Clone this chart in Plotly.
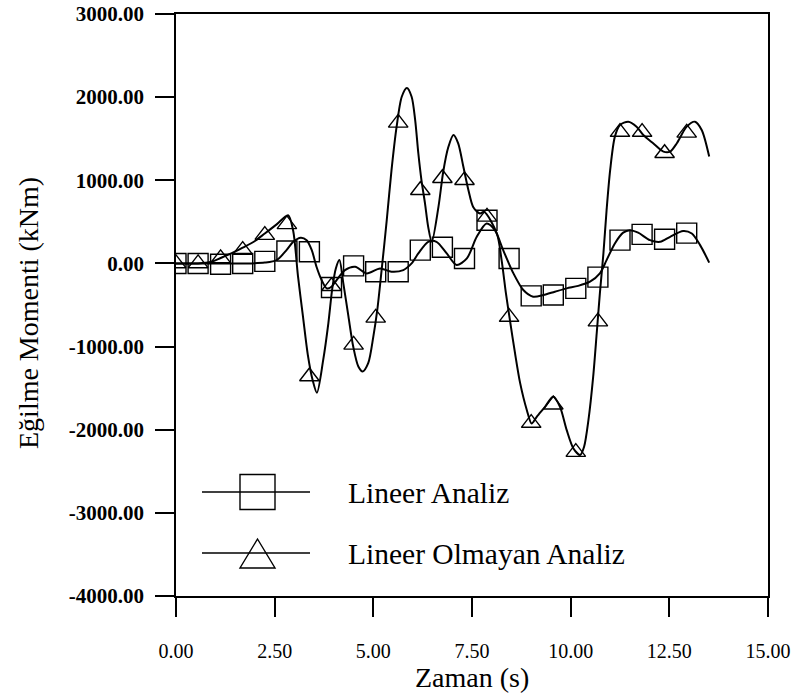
import plotly.graph_objects as go

# --- data -----------------------------------------------------------------
# sampled times of the plotted markers (s)
t_markers = [0.00, 0.56, 1.13, 1.69, 2.25, 2.81, 3.38, 3.94, 4.50, 5.06, 5.63, 6.19,
             6.75, 7.31, 7.88, 8.44, 9.00, 9.56, 10.13, 10.69, 11.25, 11.81, 12.38, 12.94]

# bending moment at the marker times (kNm)
lineer_markers = [0, 0, -10, 0, 25, 150, 140, -290, -30, -100, -100, 160,
                  195, 60, 520, 60, -390, -380, -300, -165, 280, 350, 290, 365]
nonlineer_markers = [0, 0, 60, 160, 340, 470, -1360, -275, -980, -655, 1690, 880,
                     1025, 1000, 560, -645, -1920, -1700, -2270, -700, 1580, 1580, 1325, 1570]

# continuous response curves
t_lineer = [0.00, 0.56, 1.13, 1.69, 2.25, 2.55, 2.80, 2.97, 3.16, 3.31, 3.44, 3.56, 3.69,
            3.82, 3.94, 4.07, 4.28, 4.54, 4.83, 5.17, 5.46, 5.76, 5.97, 6.14, 6.39,
            6.60, 6.86, 7.11, 7.37, 7.62, 7.87, 8.08, 8.29, 8.55, 8.80, 9.05, 9.31,
            9.60, 9.90, 10.19, 10.49, 10.74, 10.91, 11.12, 11.33, 11.50, 11.71, 12.01,
            12.27, 12.52, 12.85, 13.07, 13.28, 13.51]
m_lineer = [0, 0, 0, 0, 10, 40, 160, 260, 310, 280, 160, -40, -200,
            -300, -280, -200, -80, -40, -120, -60, -100, -80, 0, 120, 260,
            260, 120, -20, 60, 320, 480, 400, 160, -120, -320, -400, -380,
            -340, -300, -270, -220, -120, 40, 240, 370, 400, 370, 280,
            260, 320, 390, 360, 220, 10]

t_nonlineer = [0.00, 0.56, 0.90, 1.13, 1.40, 1.69, 2.00, 2.25, 2.55, 2.84, 2.97, 3.09,
               3.22, 3.34, 3.46, 3.57, 3.73, 3.86, 3.96, 4.05, 4.14, 4.24, 4.37, 4.49,
               4.62, 4.73, 4.87, 5.00, 5.10, 5.21, 5.34, 5.46, 5.59, 5.72, 5.85, 5.97,
               6.06, 6.14, 6.22, 6.31, 6.39, 6.48, 6.65, 6.77, 6.90, 7.03, 7.15, 7.28,
               7.41, 7.53, 7.70, 7.81, 8.13, 8.25, 8.36, 8.46, 8.59, 8.72, 8.89, 9.01,
               9.14, 9.35, 9.56, 9.73, 9.90, 10.07, 10.24, 10.34, 10.45, 10.57, 10.66,
               10.74, 10.83, 10.91, 11.00, 11.12, 11.25, 11.46, 11.67, 11.84, 12.09,
               12.35, 12.52, 12.69, 12.94, 13.15, 13.32, 13.51]
m_nonlineer = [0, 0, 20, 65, 120, 190, 270, 360, 470, 580, 390, -150,
               -650, -1100, -1400, -1555, -1160, -720, -300, -60, 40, -240, -640, -1000,
               -1240, -1300, -1200, -880, -560, -80, 520, 1120, 1645, 2005, 2110, 2005,
               1725, 1325, 1000, 720, 440, 260, 680, 1100, 1400, 1545, 1445, 1165,
               880, 680, 600, 620, 360, 40, -360, -680, -1080, -1440, -1765, -1925,
               -1845, -1725, -1600, -1725, -2005, -2225, -2305, -2205, -1885, -1365, -840,
               -360, 120, 640, 1120, 1525, 1665, 1705, 1645, 1545, 1445,
               1345, 1345, 1445, 1645, 1705, 1605, 1285]

series_names = ["Lineer Analiz", "Lineer Olmayan Analiz"]
x_ticks = [0, 2.5, 5, 7.5, 10, 12.5, 15]
y_ticks = [-4000, -3000, -2000, -1000, 0, 1000, 2000, 3000]
y_tick_labels = ["-4000.00", "-3000.00", "-2000.00", "-1000.00",
                 "0.00", "1000.00", "2000.00", "3000.00"]

# --- layout constants -------------------------------------------------------
W, H = 794, 693
ML, MR, MT, MB = 176, 26, 14, 97
PW, PH = W - ML - MR, H - MT - MB
SERIF = "Liberation Serif"


def px(xp):
    return (xp - ML) / PW


def py(yp):
    return (H - MB - yp) / PH


fig = go.Figure()

curve = dict(color="black", width=2, shape="spline", smoothing=0.8)
fig.add_trace(go.Scatter(x=t_lineer, y=m_lineer, mode="lines", line=curve,
                         name=series_names[0], showlegend=False, hoverinfo="skip"))
fig.add_trace(go.Scatter(x=t_nonlineer, y=m_nonlineer, mode="lines", line=curve,
                         name=series_names[1], showlegend=False, hoverinfo="skip"))
fig.add_trace(go.Scatter(x=t_markers, y=lineer_markers, mode="markers",
                         marker=dict(symbol="square-open", size=20, color="black",
                                     line=dict(width=1.4, color="black")),
                         name=series_names[0], showlegend=False))
fig.add_trace(go.Scatter(x=t_markers, y=nonlineer_markers, mode="markers",
                         marker=dict(symbol="triangle-up-open", size=17, color="black",
                                     line=dict(width=1.4, color="black")),
                         name=series_names[1], showlegend=False))

# hand-built legend keys inside the plotting area
shapes = []
annotations = []
legend_rows = [492, 553]
for row_y, name, kind in zip(legend_rows, series_names, ["square", "triangle"]):
    shapes.append(dict(type="line", xref="paper", yref="paper",
                       x0=px(202), x1=px(310), y0=py(row_y), y1=py(row_y),
                       line=dict(color="black", width=1.6)))
    if kind == "square":
        shapes.append(dict(type="rect", xref="paper", yref="paper",
                           x0=px(240), x1=px(275), y0=py(row_y + 17.5), y1=py(row_y - 17.5),
                           line=dict(color="black", width=1.4)))
    else:
        path = "M {a},{b} L {c},{d} L {e},{f} Z".format(
            a=px(240), b=py(row_y + 15), c=px(275), d=py(row_y + 15),
            e=px(257.5), f=py(row_y - 14))
        shapes.append(dict(type="path", xref="paper", yref="paper", path=path,
                           line=dict(color="black", width=1.4)))
    annotations.append(dict(text=name, xref="paper", yref="paper",
                            x=px(346), y=py(row_y + 1), xanchor="left", yanchor="middle",
                            showarrow=False, font=dict(family=SERIF, size=29.5, color="black")))

# axis titles
annotations.append(dict(text="Zaman (s)", xref="paper", yref="paper",
                        x=0.5, y=py(677), xanchor="center", yanchor="middle",
                        showarrow=False, font=dict(family=SERIF, size=28, color="black")))
annotations.append(dict(text="Eğilme Momenti (kNm)", xref="paper", yref="paper",
                        x=px(28), y=py(313), xanchor="center", yanchor="middle", textangle=-90,
                        showarrow=False, font=dict(family=SERIF, size=28, color="black")))

axis_common = dict(showline=True, linecolor="black", linewidth=1.5, mirror=True,
                   ticks="outside", ticklen=19, tickwidth=1.5, tickcolor="black",
                   showgrid=False, zeroline=False, automargin=False)

fig.update_layout(
    width=W, height=H,
    margin=dict(l=ML, r=MR, t=MT, b=MB, autoexpand=False),
    paper_bgcolor="white", plot_bgcolor="white",
    xaxis=dict(range=[0, 15], tickvals=x_ticks, tickformat=".2f", ticklabelstandoff=17,
               tickfont=dict(family=SERIF, size=20, color="black"), **axis_common),
    yaxis=dict(range=[-4000, 3000], tickvals=y_ticks, ticktext=y_tick_labels,
               ticklabelstandoff=7,
               tickfont=dict(family=SERIF, size=21, color="black", weight="bold"),
               **axis_common),
    shapes=shapes,
    annotations=annotations,
    showlegend=False,
)

fig.write_html("out.html")
